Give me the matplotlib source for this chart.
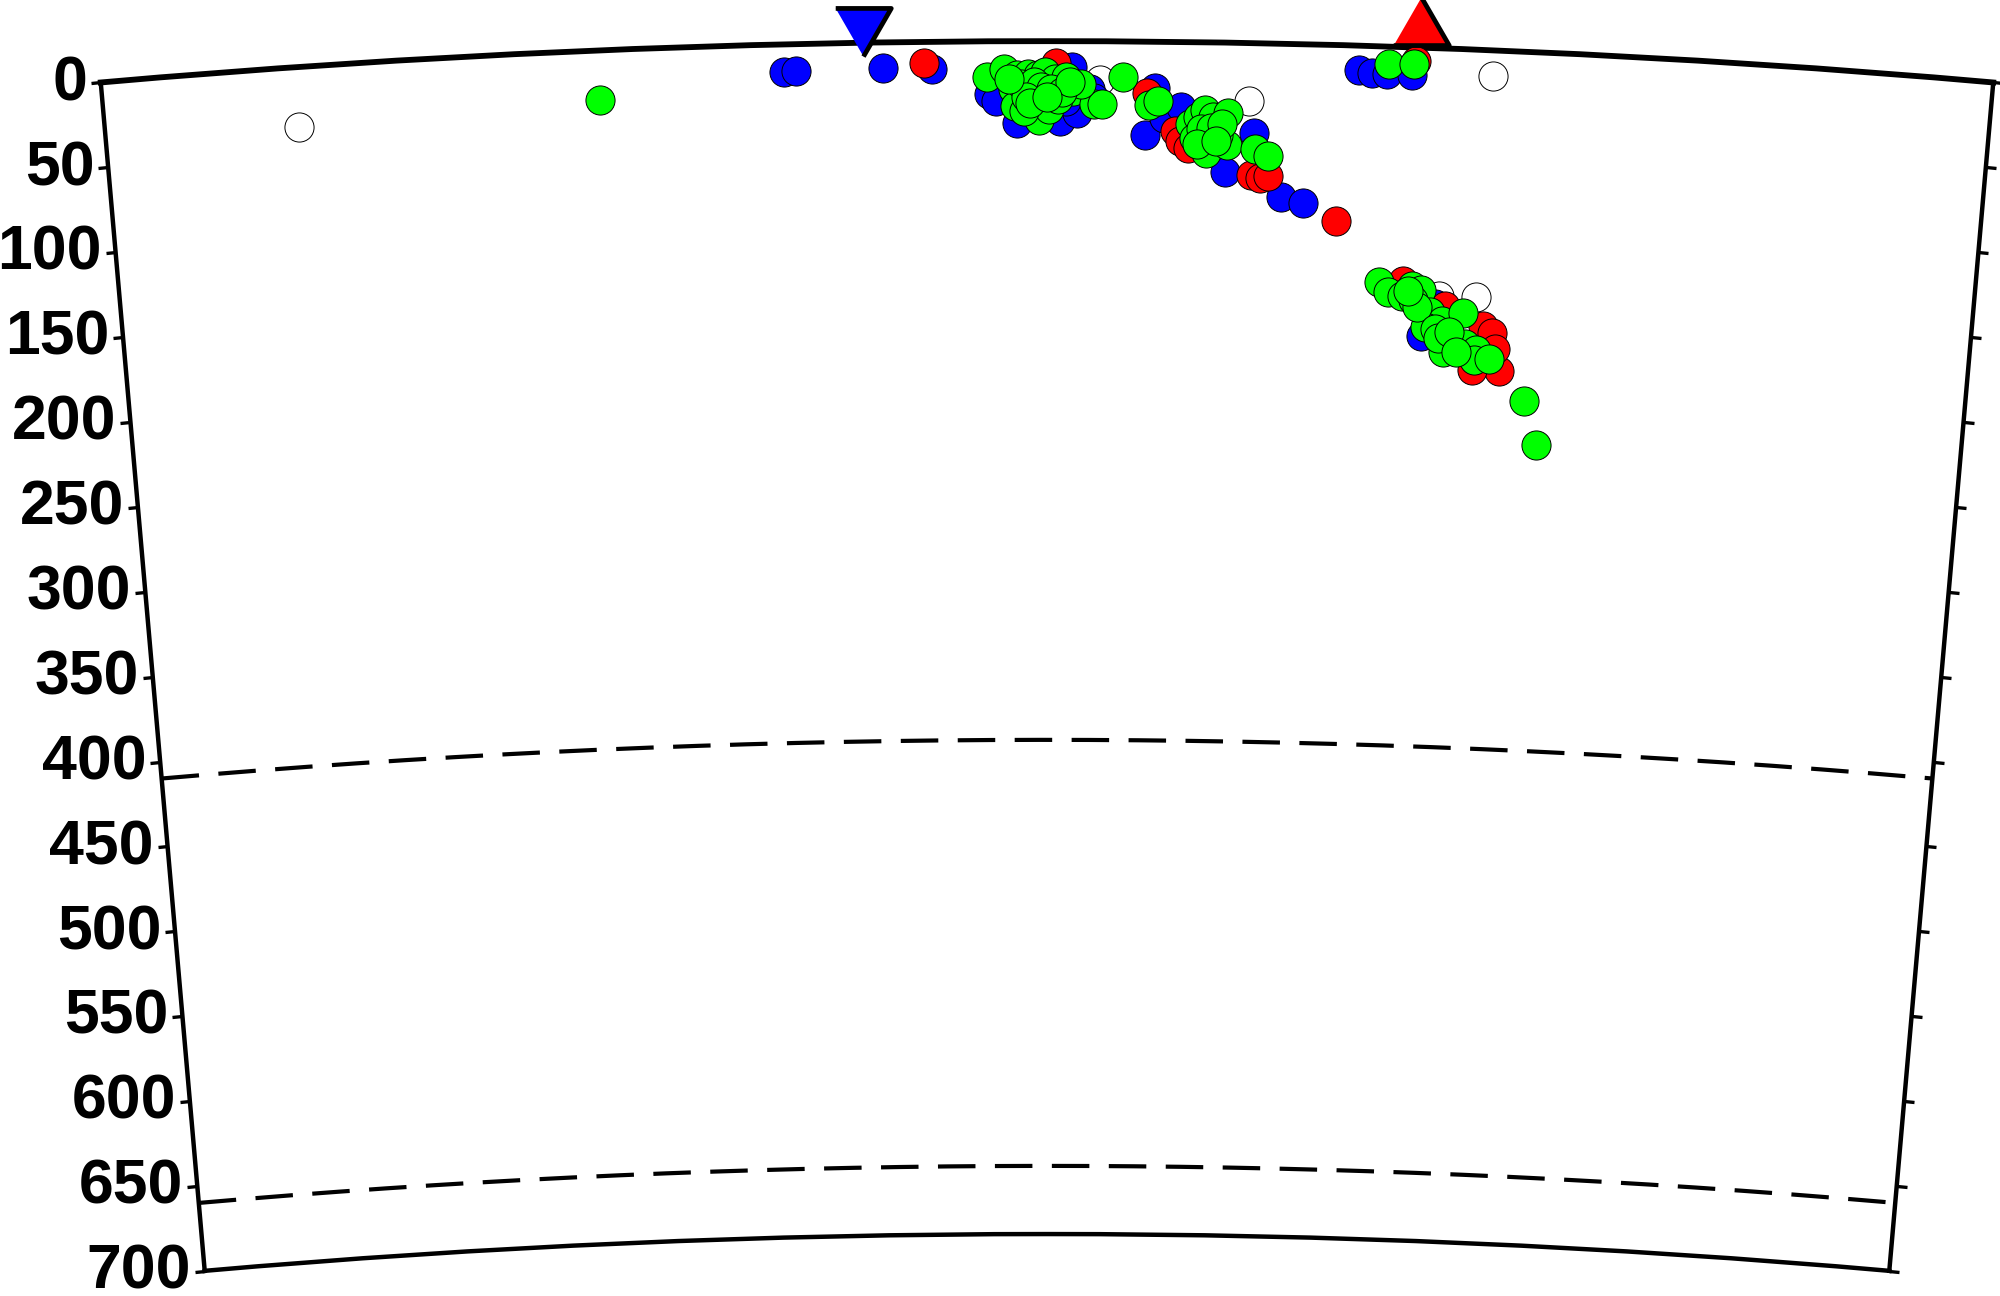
import numpy as np
import matplotlib
matplotlib.use("Agg")
import matplotlib.pyplot as plt
from matplotlib.transforms import Bbox

plt.rcParams['font.family'] = ['Liberation Sans', 'DejaVu Sans']
plt.rcParams['font.weight'] = 'bold'
plt.rcParams['lines.scale_dashes'] = False

# ---- data: distance along profile (deg) and depth (km) ----
white_dist = [1.03, 5.28, 6.07, 7.36, 7.12, 7.32]
white_depth = [35, 23, 34, 15, 145, 145]

blue_dist = [3.61, 3.67, 4.13, 4.39, 4.69, 4.73, 4.84, 5.07, 5.16, 5.23, 5.25, 5.13,
             4.95, 5.10, 5.57, 5.52, 5.62, 5.71, 5.85, 6.10, 5.95, 6.25, 6.37,
             6.65, 6.72, 6.80, 6.93, 7.03, 7.10]
blue_depth = [16, 16, 15, 16, 31, 35, 48, 47, 42, 28, 33, 15,
              40, 35, 27, 55, 45, 38, 50, 53, 76, 90, 93,
              14, 16, 16, 16, 169, 150]

red_dist = [4.35, 5.05, 5.53, 5.68, 5.71, 5.75, 6.09, 6.14, 6.18, 6.55, 6.95,
            6.92, 7.36, 7.41, 7.46, 7.31, 7.15, 7.43]
red_depth = [12.5, 13, 30, 52, 58, 62, 77.5, 79, 78, 103, 8,
             137, 162, 166, 188, 188, 151, 175]

green_dist = [2.63,
              4.68, 4.77, 4.84, 4.90, 4.95, 4.99, 5.04, 5.10, 4.82, 4.92, 4.83, 4.96,
              5.01, 4.88, 5.14, 5.25, 5.29, 5.40, 5.06, 5.18, 4.86, 4.93, 4.97, 5.02,
              4.89, 5.08, 4.80, 5.12, 4.91, 5.00,
              5.54, 5.59, 5.76, 5.80, 5.84, 5.88, 5.96, 5.78, 5.85, 5.96, 5.91, 6.11,
              6.18, 5.82, 5.87, 5.93, 5.80, 5.90,
              6.81, 6.94,
              6.79, 6.84, 6.92, 6.97, 7.02, 6.98, 7.07, 7.14, 7.25, 7.05, 7.15, 7.20,
              7.27, 7.33, 7.32, 7.40, 7.60, 7.68, 7.00, 7.10, 7.12, 7.18, 6.95, 7.22]
green_depth = [29,
               21, 16, 20, 19, 20, 18, 22, 21, 28, 30, 38, 46,
               40, 41, 29, 37, 37, 21, 34, 25, 25, 24, 27, 28,
               33, 30, 22, 24, 36, 33,
               37, 35, 48, 44, 40, 44, 41, 56, 65, 60, 54, 62,
               66, 51, 50, 48, 60, 58,
               10, 10,
               138, 144, 146, 140, 142, 148, 155, 160, 155, 164, 178, 171,
               173, 176, 182, 181, 205, 230, 152, 165, 170, 166, 143, 178]

station_dist = [4.03, 6.97]
station_elev = [6.0, 15.5]      # plotted slightly above the surface (km)
station_colors = ['#0000ff', '#ff0000']
station_down = [True, False]

discontinuities = [410, 660]
depth_ticks = list(range(0, 701, 50))

profile_min, profile_max = 0.0, 10.0
max_depth = 700
earth_radius = 6371

W, H = 2000, 1296
# target bounding box of the section (pixels, origin at bottom-left)
target = Bbox.from_extents(91.5, H - 1274.5, 2002.5, H - 37.5)

# ---- figure ----
fig = plt.figure(figsize=(W / 100, H / 100), dpi=100)
ax = fig.add_axes([0.05, 0.02, 0.947, 0.946], projection='polar')
ax.set_theta_zero_location('N', offset=(profile_max - profile_min) / 2)
ax.set_theta_direction(-1)
ax.set_thetamin(profile_min)
ax.set_thetamax(profile_max)
ax.set_rorigin(-earth_radius)
ax.set_rlim(-max_depth, 0)

ax.grid(False)
ax.set_xticks([])
ax.set_yticks([-d for d in depth_ticks])
ax.set_yticklabels([str(d) for d in depth_ticks])
ax.tick_params(axis='y', left=True, right=True, labelleft=True, labelright=False,
               length=7, width=2.4, pad=3, labelsize=45, direction='out')

for name, sp in ax.spines.items():
    sp.set_linewidth(3.2)
    sp.set_color('black')
ax.spines['polar'].set_linewidth(4.2)

# fit the wedge into the target box
for _ in range(2):
    fig.canvas.draw()
    ext = Bbox.union([ax.spines[n].get_window_extent() for n in ('polar', 'inner', 'start', 'end')])
    pos = ax.get_position().transformed(fig.transFigure)
    sx = target.width / ext.width
    sy = target.height / ext.height
    s = 0.5 * (sx + sy)
    new_w, new_h = pos.width * s, pos.height * s
    cx_off = (ext.x0 + ext.x1) / 2 - pos.x0
    cy_off = (ext.y0 + ext.y1) / 2 - pos.y0
    new_x0 = (target.x0 + target.x1) / 2 - cx_off * s
    new_y0 = (target.y0 + target.y1) / 2 - cy_off * s
    ax.set_position([new_x0 / W, new_y0 / H, new_w / W, new_h / H])

# discontinuities
th = np.deg2rad(np.linspace(profile_min, profile_max, 400))
for d in discontinuities:
    ax.plot(th, np.full_like(th, -d), color='black', lw=3.0, dashes=(27, 14), zorder=2)

def sc(dist, depth, color):
    ax.scatter(np.deg2rad(dist), -np.asarray(depth, float), s=440, c=color,
               edgecolors='black', linewidths=0.7, zorder=3)

sc(white_dist, white_depth, 'white')
sc(blue_dist, blue_depth, '#0000ff')
sc(red_dist, red_depth, '#ff0000')
sc(green_dist, green_depth, '#00ff00')

tri_down = [(-1, 0.866), (1, 0.866), (0, -0.866)]
tri_up = [(-1, -0.866), (1, -0.866), (0, 0.866)]
for d, e, c, down in zip(station_dist, station_elev, station_colors, station_down):
    ax.plot([np.deg2rad(d)], [e], marker=tri_down if down else tri_up, ms=40,
            mfc=c, mec='black', mew=3.4, clip_on=False, zorder=5, linestyle='none')

fig.savefig('out.png', dpi=100, facecolor='white')
